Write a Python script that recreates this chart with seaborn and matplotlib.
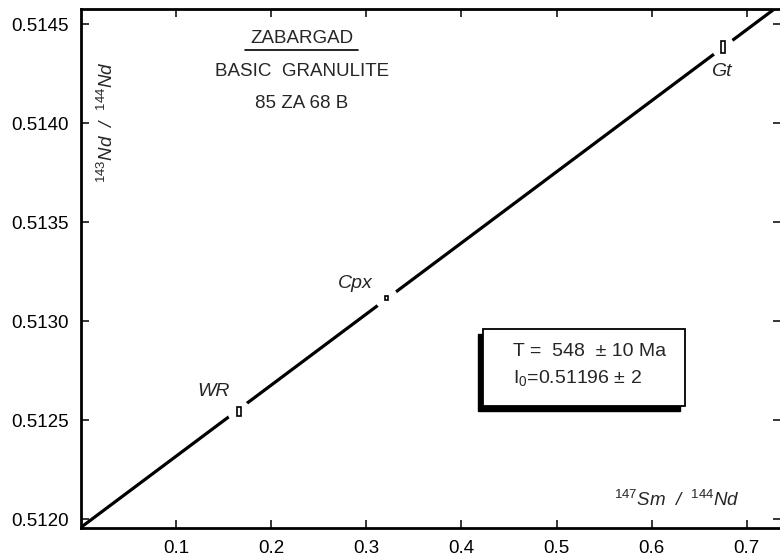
import matplotlib
matplotlib.use("Agg")
import matplotlib.pyplot as plt
import matplotlib.transforms as mtransforms
from matplotlib.patches import Rectangle
import seaborn as sns
import pandas as pd

# ---- data ----
samples = ["WR", "Cpx", "Gt"]
sm_nd = [0.166, 0.321, 0.675]
nd_nd = [0.512545, 0.513118, 0.514385]
x_err = [0.0021, 0.0017, 0.0026]
y_err = [0.000023, 0.000010, 0.000028]

iso_x = [0.0, 0.736]
iso_y = [0.51196, 0.514602]

x_ticks = [0.1, 0.2, 0.3, 0.4, 0.5, 0.6, 0.7]
y_ticks = [0.5120, 0.5125, 0.5130, 0.5135, 0.5140, 0.5145]

title_lines = ["ZABARGAD", "BASIC  GRANULITE", "85 ZA 68 B"]
age_text = "T =  548  ± 10 Ma"
init_text = r"I$_0$=0.51196 ± 2"

sns.set_style("ticks")
plt.rcParams["font.family"] = ["Liberation Sans", "DejaVu Sans"]
plt.rcParams["mathtext.fontset"] = "custom"
plt.rcParams["mathtext.rm"] = "Liberation Sans"
plt.rcParams["mathtext.it"] = "Liberation Sans:italic"

fig = plt.figure(figsize=(7.8, 5.56), dpi=100)
L, R, T, B = 81, 781, 9, 527.7
ax = fig.add_axes([L / 780, 1 - B / 556, (R - L) / 780, (B - T) / 556])

def P(px, py):
    return ((px - L) / (R - L), (B - py) / (B - T))

df_iso = pd.DataFrame({"x": iso_x, "y": iso_y})
sns.lineplot(data=df_iso, x="x", y="y", ax=ax, color="black", lw=2.3, zorder=2)

df_pts = pd.DataFrame({"x": sm_nd, "y": nd_nd, "s": samples})
# white gaps in the isochron around each analysis
sns.scatterplot(data=df_pts, x="x", y="y", ax=ax, s=280, color="white",
                edgecolor="none", zorder=3, legend=False)
for xv, yv, ex, ey in zip(sm_nd, nd_nd, x_err, y_err):
    ax.add_patch(Rectangle((xv - ex, yv - ey), 2 * ex, 2 * ey, facecolor="white",
                           edgecolor="black", lw=1.2, zorder=4))

ax.set_xlim(0, 0.736)
ax.set_ylim(0.511958, 0.514577)
ax.set_xticks(x_ticks)
ax.set_xticklabels([f"{v:.1f}" for v in x_ticks])
ax.set_yticks(y_ticks)
ax.set_yticklabels([f"{v:.4f}" for v in y_ticks])
ax.set_xlabel("")
ax.set_ylabel("")
ax.tick_params(direction="in", length=6, width=1.1, top=True, right=True,
               labelsize=13.5, pad=9, colors="black")
for side in ["left", "bottom", "top"]:
    ax.spines[side].set_linewidth(2.0)
    ax.spines[side].set_color("black")
ax.spines["right"].set_visible(False)

# annotations
tx = P(302, 0)[0]
ax.text(tx, P(0, 38.5)[1], title_lines[0], transform=ax.transAxes, ha="center",
        va="center", fontsize=13.5)
u0, u1 = P(245, 0)[0], P(358, 0)[0]
ax.plot([u0, u1], [P(0, 50)[1]] * 2, transform=ax.transAxes, color="black", lw=1.2)
ax.text(tx, P(0, 72)[1], title_lines[1], transform=ax.transAxes, ha="center",
        va="center", fontsize=13.5)
ax.text(tx, P(0, 103)[1], title_lines[2], transform=ax.transAxes, ha="center",
        va="center", fontsize=13.5)

ax.text(*P(107, 122), r"$^{\mathit{143}}$Nd  /  $^{\mathit{144}}$Nd", transform=ax.transAxes,
        rotation=90, ha="center", va="center", fontsize=13.5, fontstyle="italic")
ax.text(*P(677, 500), r"$^{\mathit{147}}$Sm  /  $^{\mathit{144}}$Nd", transform=ax.transAxes,
        ha="center", va="center", fontsize=13.5, fontstyle="italic")

label_pos = [(214, 391), (355, 284), (721, 72)]
for name, (px, py) in zip(samples, label_pos):
    ax.text(*P(px, py), name, transform=ax.transAxes, ha="center", va="center",
            fontsize=14, fontstyle="italic")

# result box with drop shadow
bx0, by0 = P(483, 406)
bx1, by1 = P(685, 329)
shadow_tr = mtransforms.offset_copy(ax.transAxes, fig=fig, x=-5, y=-5, units="dots")
ax.add_patch(Rectangle((bx0, by0), bx1 - bx0, by1 - by0, transform=shadow_tr,
                       facecolor="black", edgecolor="black", zorder=5))
ax.add_patch(Rectangle((bx0, by0), bx1 - bx0, by1 - by0, transform=ax.transAxes,
                       facecolor="white", edgecolor="black", lw=1.3, zorder=6))
ax.text(*P(513, 352), age_text, transform=ax.transAxes, ha="left", va="center",
        fontsize=14, zorder=7)
ax.text(*P(513, 378), init_text, transform=ax.transAxes, ha="left", va="center",
        fontsize=14, zorder=7)

fig.savefig("out.png", dpi=100)
